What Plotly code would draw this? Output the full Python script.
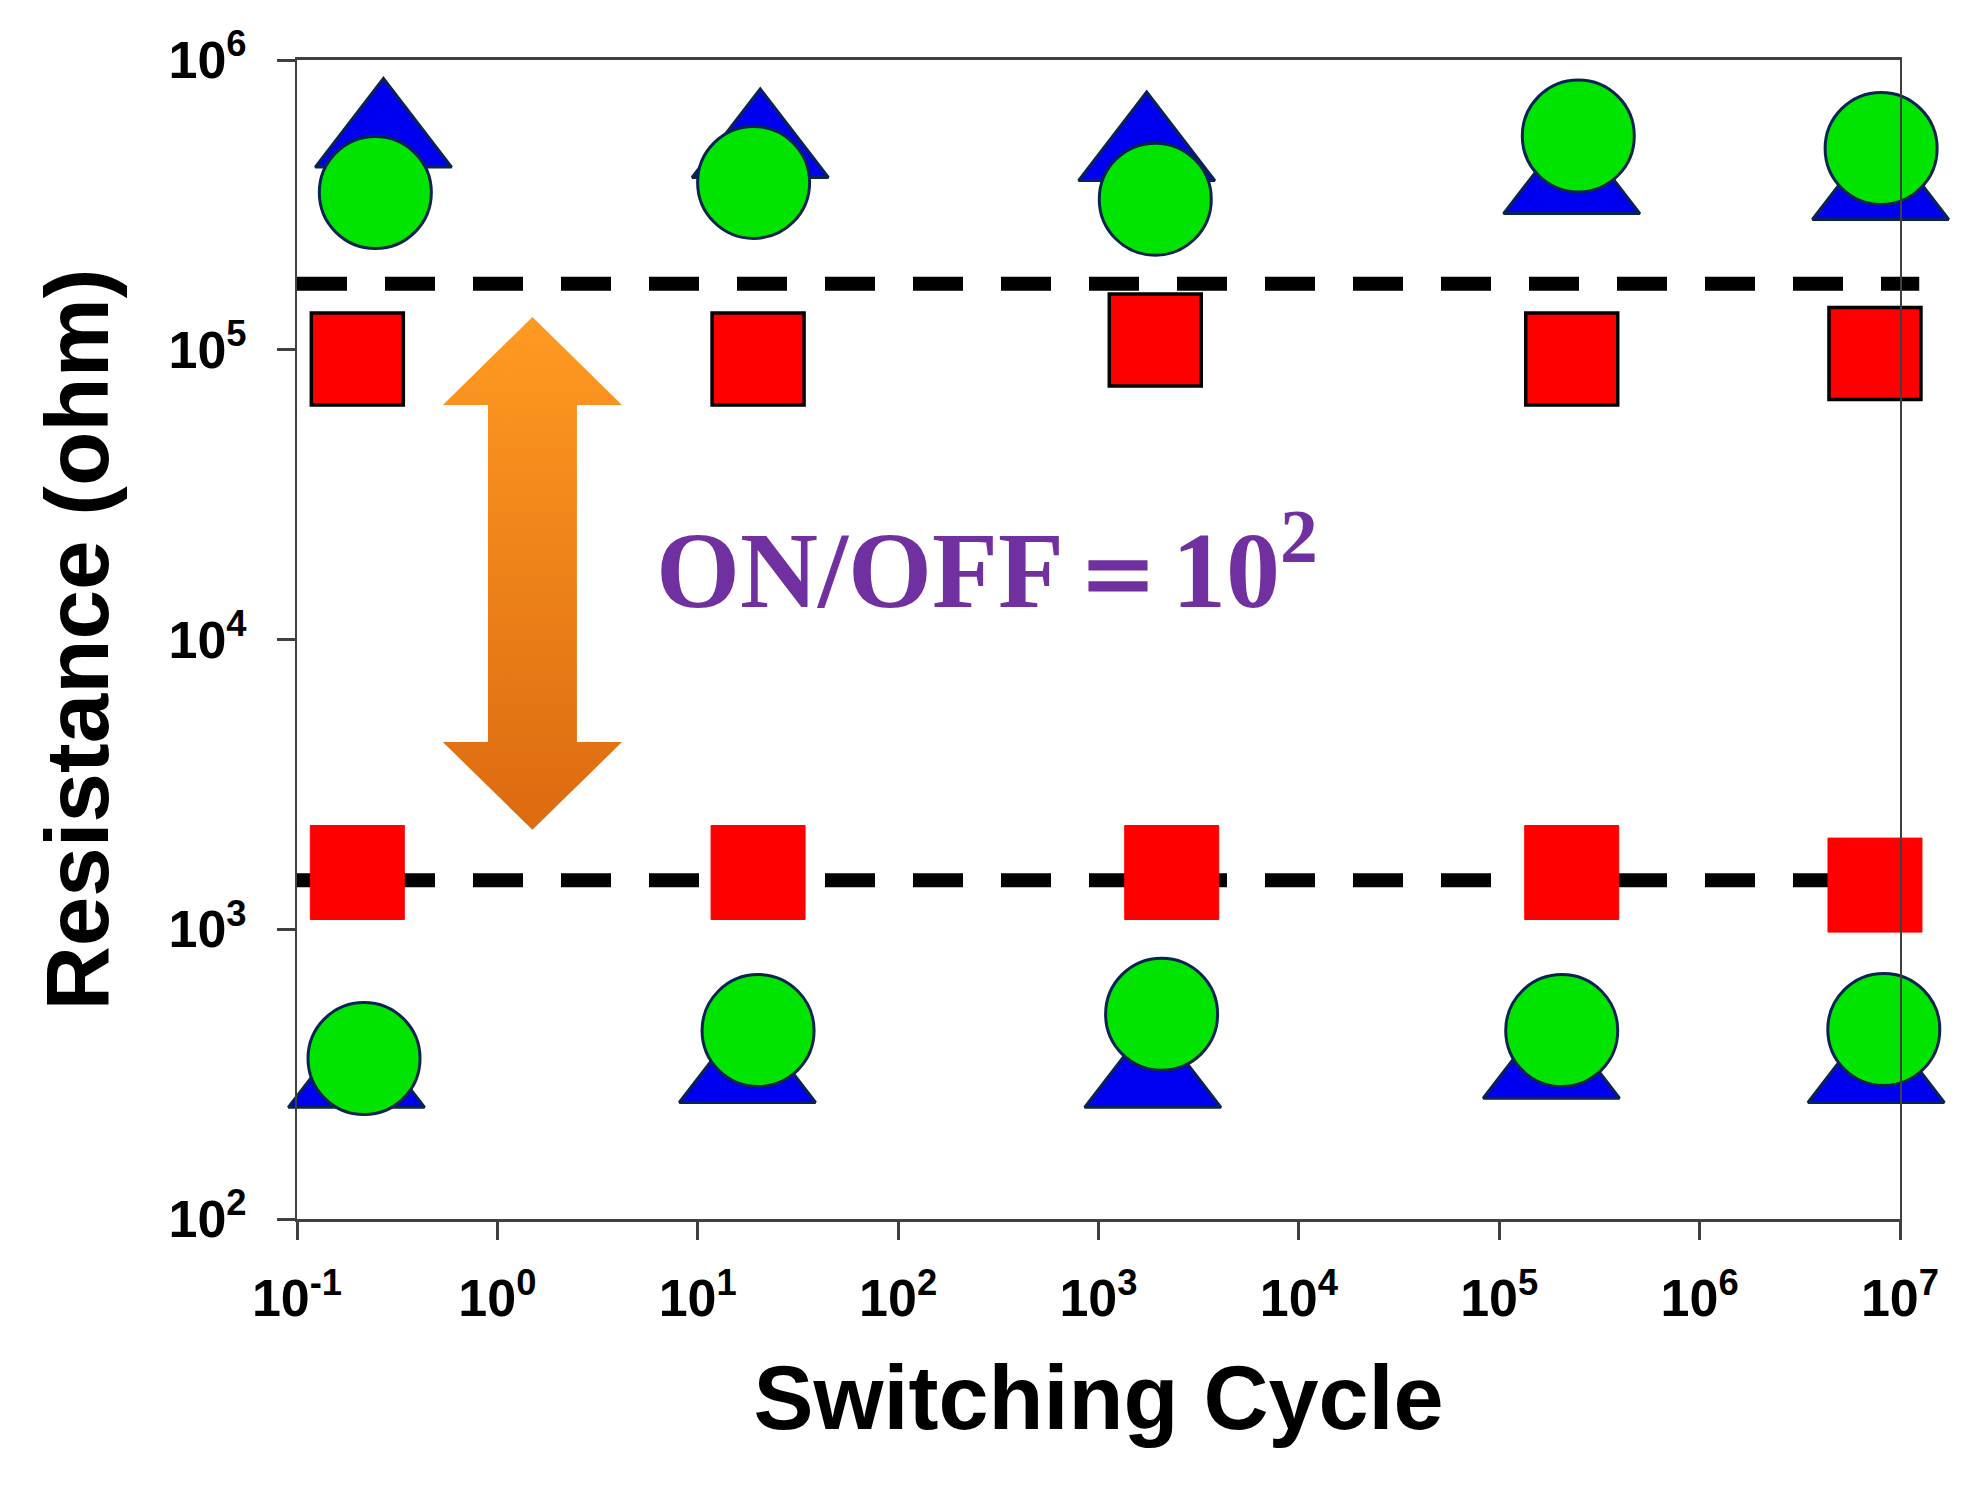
import plotly.graph_objects as go

# ---------------- data ----------------
x_ticks = [1e-1, 1e0, 1e1, 1e2, 1e3, 1e4, 1e5, 1e6, 1e7]
x_tick_labels = ["10<sup>-1</sup>", "10<sup>0</sup>", "10<sup>1</sup>", "10<sup>2</sup>",
                 "10<sup>3</sup>", "10<sup>4</sup>", "10<sup>5</sup>", "10<sup>6</sup>", "10<sup>7</sup>"]
y_ticks = [1e2, 1e3, 1e4, 1e5, 1e6]
y_tick_labels = ["10<sup>2</sup>", "10<sup>3</sup>", "10<sup>4</sup>", "10<sup>5</sup>", "10<sup>6</sup>"]

# device A (squares)
sq_hrs_x = [0.2, 20, 1920, 2.3e5, 7.5e6]
sq_hrs_y = [9.3e4, 9.3e4, 1.08e5, 9.3e4, 9.7e4]
sq_lrs_x = [0.2, 20, 2320, 2.3e5, 7.5e6]
sq_lrs_y = [1570, 1570, 1570, 1570, 1420]

# device B (triangles)
tri_hrs_x = [0.27, 20.5, 1740, 2.3e5, 8.0e6]
tri_hrs_y = [5.4e5, 4.97e5, 4.85e5, 3.73e5, 3.56e5]
tri_lrs_x = [0.198, 17.7, 1866, 1.82e5, 7.6e6]
tri_lrs_y = [307, 319, 307, 330, 319]

# device C (circles)
cir_hrs_x = [0.246, 19, 1920, 2.48e5, 8.05e6]
cir_hrs_y = [3.49e5, 3.78e5, 3.31e5, 5.47e5, 4.95e5]
cir_lrs_x = [0.216, 20, 2065, 2.05e5, 8.3e6]
cir_lrs_y = [358, 447, 509, 447, 451]

# reference levels
hrs_level = 1.69e5
lrs_level = 1475

# ON/OFF arrow (log10 units)
arrow_cx = 0.175
arrow_shaft_half = 0.222
arrow_head_half = 0.447
arrow_top = 5.113
arrow_top_head = 4.809
arrow_bot_head = 3.646
arrow_bot = 3.343

ratio_text = "ON/OFF＝10<sup>2</sup>"

# ---------------- figure ----------------
W, H = 1973, 1486
L, R, T, B = 289, 81, 52, 275

navy = "#0B2350"
fig = go.Figure()

# arrow polygon
ax_log = [arrow_cx, arrow_cx + arrow_head_half, arrow_cx + arrow_shaft_half, arrow_cx + arrow_shaft_half,
          arrow_cx + arrow_head_half, arrow_cx, arrow_cx - arrow_head_half, arrow_cx - arrow_shaft_half,
          arrow_cx - arrow_shaft_half, arrow_cx - arrow_head_half, arrow_cx]
ay_log = [arrow_top, arrow_top_head, arrow_top_head, arrow_bot_head, arrow_bot_head, arrow_bot,
          arrow_bot_head, arrow_bot_head, arrow_top_head, arrow_top_head, arrow_top]
fig.add_trace(go.Scatter(
    x=[10 ** v for v in ax_log], y=[10 ** v for v in ay_log],
    mode="lines", fill="toself", line=dict(width=0, color="rgba(0,0,0,0)"),
    fillgradient=dict(type="vertical", colorscale=[[0, "#DC6A10"], [1, "#FF9A22"]]),
    hoverinfo="skip", showlegend=False))

common = dict(mode="markers", showlegend=False, cliponaxis=False)

fig.add_trace(go.Scatter(x=sq_hrs_x, y=sq_hrs_y, marker=dict(symbol="square", size=92, color="#FF0000",
                         line=dict(color="#000000", width=3.5)), **common))
fig.add_trace(go.Scatter(x=sq_lrs_x, y=sq_lrs_y, marker=dict(symbol="square", size=94, color="#FF0000",
                         line=dict(color="#FF0000", width=1)), **common))
fig.add_trace(go.Scatter(x=tri_hrs_x, y=tri_hrs_y, marker=dict(symbol="triangle-up", size=118, color="#0000F0",
                         line=dict(color=navy, width=3)), **common))
fig.add_trace(go.Scatter(x=tri_lrs_x, y=tri_lrs_y, marker=dict(symbol="triangle-up", size=118, color="#0000F0",
                         line=dict(color=navy, width=3)), **common))
fig.add_trace(go.Scatter(x=cir_hrs_x, y=cir_hrs_y, marker=dict(symbol="circle", size=112, color="#00E400",
                         line=dict(color=navy, width=3)), **common))
fig.add_trace(go.Scatter(x=cir_lrs_x, y=cir_lrs_y, marker=dict(symbol="circle", size=112, color="#00E400",
                         line=dict(color=navy, width=3)), **common))

# dashed reference lines
for lvl in (hrs_level, lrs_level):
    fig.add_shape(type="line", xref="paper", x0=0, x1=1.012, yref="y", y0=lvl, y1=lvl,
                  line=dict(color="#000000", width=14, dash="50px,38px"), layer="below")

fig.add_annotation(x=0.781, y=4.267, xref="x", yref="y", text=ratio_text, showarrow=False,
                   xanchor="left", yanchor="middle",
                   font=dict(family="Liberation Serif", size=108, color="#7030A0", weight="bold"))

axis_common = dict(type="log", showgrid=False, zeroline=False, showline=True, linecolor="#404040",
                   mirror=True, ticks="outside", ticklen=18, tickwidth=3, tickcolor="#404040",
                   tickfont=dict(family="Liberation Sans", size=52, color="#000000", weight="bold"))

fig.update_xaxes(range=[-1, 7], tickvals=x_ticks, ticktext=x_tick_labels, linewidth=3,
                 ticklabelstandoff=14,
                 title=dict(text="Switching Cycle", standoff=40,
                            font=dict(family="Liberation Sans", size=90, color="#000000", weight="bold")),
                 **axis_common)
fig.update_yaxes(range=[2, 6], tickvals=y_ticks, ticktext=y_tick_labels, linewidth=2,
                 ticklabelstandoff=20,
                 title=dict(text="Resistance (ohm)", standoff=30,
                            font=dict(family="Liberation Sans", size=89, color="#000000", weight="bold")),
                 **axis_common)

fig.update_layout(width=W, height=H, margin=dict(l=L, r=R, t=T, b=B, autoexpand=False),
                  paper_bgcolor="white", plot_bgcolor="white")

fig.write_html("out.html")
